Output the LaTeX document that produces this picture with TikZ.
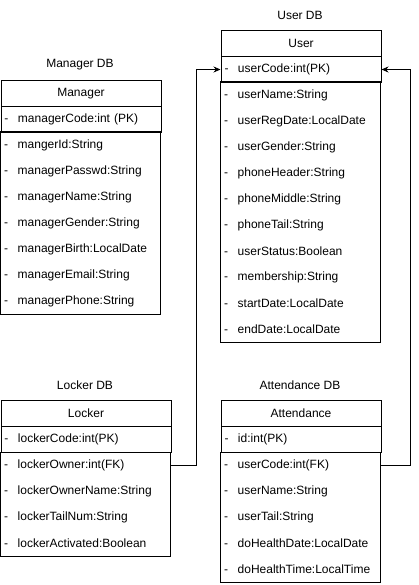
\documentclass[tikz,border=0pt]{standalone}
\usepackage{fontspec}
\setmainfont{Liberation Sans}
\usetikzlibrary{arrows.meta}
\begin{document}
\begin{tikzpicture}[x=1pt,y=-1pt,
  every node/.style={font=\fontsize{12}{14}\selectfont, inner sep=0pt},
  hdr/.style={draw, line width=1pt, minimum width=#1, minimum height=26pt, anchor=north west},
  rowA/.style={minimum width=160pt, minimum height=26pt, anchor=north west, text width=153pt, inner xsep=3.5pt, align=left},
  rowB/.style={minimum width=170pt, minimum height=26pt, anchor=north west, text width=163pt, inner xsep=3.5pt, align=left},
  pkA/.style={rowA, draw, line width=1pt},
  pkB/.style={rowB, draw, line width=1pt},
  body/.style={draw, line width=1pt},
  conn/.style={draw, line width=1pt, -{Stealth[length=7pt,width=6pt]}}
]
\useasboundingbox (0,0) rectangle (419,585);
\newcommand{\fld}[1]{\makebox[13.5pt][l]{-}#1}

% ---------- Manager ----------
\node (mgrlbl) at (80,65) {Manager DB};
\node[hdr=160pt] (mgrH) at (0.5,80) {Manager};
\node[pkA] (mgrPK) at (0.5,106) {\fld{managerCode:int (PK)}};
\node[rowA] (mgr1) at (0.5,132) {\fld{mangerId:String}};
\node[rowA] (mgr2) at (0.5,158) {\fld{managerPasswd:String}};
\node[rowA] (mgr3) at (0.5,184) {\fld{managerName:String}};
\node[rowA] (mgr4) at (0.5,210) {\fld{managerGender:String}};
\node[rowA] (mgr5) at (0.5,236) {\fld{managerBirth:LocalDate}};
\node[rowA] (mgr6) at (0.5,262) {\fld{managerEmail:String}};
\node[rowA] (mgr7) at (0.5,288) {\fld{managerPhone:String}};
\draw[body] (mgr1.north west) rectangle (mgr7.south east);

% ---------- User ----------
\node (usrlbl) at (300,15) {User DB};
\node[hdr=160pt] (usrH) at (220.5,30) {User};
\node[pkA] (usrPK) at (220.5,56) {\fld{userCode:int(PK)}};
\node[rowA] (usr1) at (220.5,82) {\fld{userName:String}};
\node[rowA] (usr2) at (220.5,108) {\fld{userRegDate:LocalDate}};
\node[rowA] (usr3) at (220.5,134) {\fld{userGender:String}};
\node[rowA] (usr4) at (220.5,160) {\fld{phoneHeader:String}};
\node[rowA] (usr5) at (220.5,186) {\fld{phoneMiddle:String}};
\node[rowA] (usr6) at (220.5,212) {\fld{phoneTail:String}};
\node[rowA] (usr7) at (220.5,238) {\fld{userStatus:Boolean}};
\node[rowA] (usr8) at (220.5,264) {\fld{membership:String}};
\node[rowA] (usr9) at (220.5,290) {\fld{startDate:LocalDate}};
\node[rowA] (usr10) at (220.5,316) {\fld{endDate:LocalDate}};
\draw[body] (usr1.north west) rectangle (usr10.south east);

% ---------- Locker ----------
\node (lkrlbl) at (85,385) {Locker DB};
\node[hdr=170pt] (lkrH) at (0.5,400) {Locker};
\node[pkB] (lkrPK) at (0.5,426) {\fld{lockerCode:int(PK)}};
\node[rowB] (lkr1) at (0.5,452) {\fld{lockerOwner:int(FK)}};
\node[rowB] (lkr2) at (0.5,478) {\fld{lockerOwnerName:String}};
\node[rowB] (lkr3) at (0.5,504) {\fld{lockerTailNum:String}};
\node[rowB] (lkr4) at (0.5,530) {\fld{lockerActivated:Boolean}};
\draw[body] (lkr1.north west) rectangle (lkr4.south east);

% ---------- Attendance ----------
\node (attlbl) at (300,385) {Attendance DB};
\node[hdr=160pt] (attH) at (220.5,400) {Attendance};
\node[pkA] (attPK) at (220.5,426) {\fld{id:int(PK)}};
\node[rowA] (att1) at (220.5,452) {\fld{userCode:int(FK)}};
\node[rowA] (att2) at (220.5,478) {\fld{userName:String}};
\node[rowA] (att3) at (220.5,504) {\fld{userTail:String}};
\node[rowA] (att4) at (220.5,530) {\fld{doHealthDate:LocalDate}};
\node[rowA] (att5) at (220.5,556) {\fld{doHealthTime:LocalTime}};
\draw[body] (att1.north west) rectangle (att5.south east);

% ---------- connectors ----------
\draw[conn] (lkr1.east) -- ++(26,0) |- (usrPK.west);
\draw[conn] (att1.east) -- ++(30,0) |- (usrPK.east);
\end{tikzpicture}
\end{document}
